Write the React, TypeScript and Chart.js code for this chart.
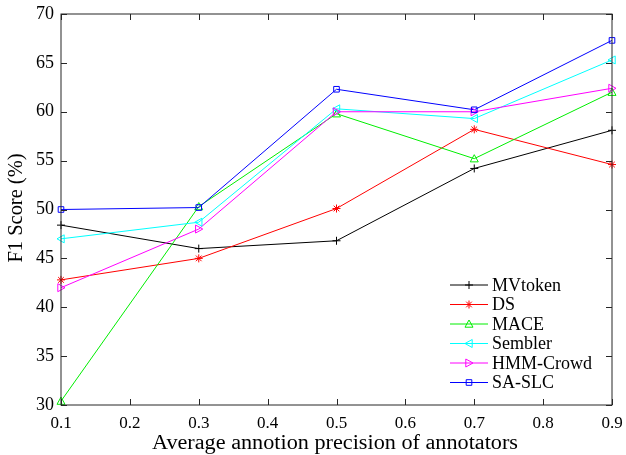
import React, { useEffect, useRef } from "react";
import { Chart, registerables } from "chart.js";

Chart.register(...registerables);

const xValues = [0.1, 0.3, 0.5, 0.7, 0.9];
const xTicks = [0.1, 0.2, 0.3, 0.4, 0.5, 0.6, 0.7, 0.8, 0.9];
const yTicks = [30, 35, 40, 45, 50, 55, 60, 65, 70];

const seriesNames = ["MVtoken", "DS", "MACE", "Sembler", "HMM-Crowd", "SA-SLC"];
const mvToken = [48.4, 46.0, 46.8, 54.2, 58.1];
const ds = [42.8, 45.0, 50.1, 58.2, 54.6];
const mace = [30.4, 50.3, 59.8, 55.2, 62.0];
const sembler = [47.0, 48.7, 60.3, 59.3, 65.3];
const hmmCrowd = [42.0, 48.0, 60.0, 60.0, 62.4];
const saSlc = [50.0, 50.2, 62.3, 60.2, 67.3];

const xTitle = "Average annotion precision of annotators";
const yTitle = "F1 Score (%)";

const seriesValues = [mvToken, ds, mace, sembler, hmmCrowd, saSlc];
const seriesColors = ["#000000", "#ff0000", "#00ee00", "#00ffff", "#ff00ff", "#0000ff"];
const seriesMarkers = ["cross", "star", "triangle", "triLeft", "triRight", "rect"];

const FONT = "'Liberation Serif', 'Times New Roman', serif";

function drawMarker(ctx: CanvasRenderingContext2D, kind: string, x: number, y: number, r: number) {
  ctx.beginPath();
  if (kind === "cross") {
    ctx.moveTo(x - r, y); ctx.lineTo(x + r, y);
    ctx.moveTo(x, y - r); ctx.lineTo(x, y + r);
  } else if (kind === "star") {
    for (let a = 0; a < 4; a++) {
      const ang = (a * Math.PI) / 4;
      ctx.moveTo(x - r * Math.cos(ang), y - r * Math.sin(ang));
      ctx.lineTo(x + r * Math.cos(ang), y + r * Math.sin(ang));
    }
  } else if (kind === "triangle") {
    ctx.moveTo(x, y - r); ctx.lineTo(x + r, y + r * 0.8); ctx.lineTo(x - r, y + r * 0.8); ctx.closePath();
  } else if (kind === "triLeft") {
    ctx.moveTo(x - r, y); ctx.lineTo(x + r * 0.8, y - r); ctx.lineTo(x + r * 0.8, y + r); ctx.closePath();
  } else if (kind === "triRight") {
    ctx.moveTo(x + r, y); ctx.lineTo(x - r * 0.8, y - r); ctx.lineTo(x - r * 0.8, y + r); ctx.closePath();
  } else if (kind === "rect") {
    ctx.rect(x - r * 0.7, y - r * 0.7, r * 1.4, r * 1.4);
  }
  ctx.stroke();
}

function drawStretchedText(ctx: CanvasRenderingContext2D, text: string, cx: number, cy: number, width: number, rot: number) {
  ctx.save();
  ctx.font = `20px ${FONT}`;
  ctx.textAlign = "center";
  ctx.textBaseline = "middle";
  ctx.fillStyle = "#000";
  const w = ctx.measureText(text).width;
  ctx.translate(cx, cy);
  ctx.rotate(rot);
  ctx.scale(width / w, 1);
  ctx.fillText(text, 0, 0);
  ctx.restore();
}

const framePlugin = {
  id: "frame",
  afterDraw(chart: any) {
    const ctx: CanvasRenderingContext2D = chart.ctx;
    const { left, right, top, bottom } = chart.chartArea;
    const xs = chart.scales.x;
    const ys = chart.scales.y;
    ctx.save();
    ctx.strokeStyle = "#262626";
    ctx.lineWidth = 1;
    ctx.strokeRect(left, top, right - left, bottom - top);
    const tl = 6;
    ctx.beginPath();
    for (const v of xTicks) {
      const px = Math.round(xs.getPixelForValue(v)) + 0.5;
      ctx.moveTo(px, bottom); ctx.lineTo(px, bottom - tl);
      ctx.moveTo(px, top); ctx.lineTo(px, top + tl);
    }
    for (const v of yTicks) {
      const py = Math.round(ys.getPixelForValue(v)) + 0.5;
      ctx.moveTo(left, py); ctx.lineTo(left + tl, py);
      ctx.moveTo(right, py); ctx.lineTo(right - tl, py);
    }
    ctx.stroke();

    // axis titles
    drawStretchedText(ctx, xTitle, 335, 444, 366, 0);
    drawStretchedText(ctx, yTitle, 17, 208, 109, -Math.PI / 2);

    // legend
    const lx = 450;
    const ly0 = 285;
    const dy = 19.5;
    ctx.font = `18px ${FONT}`;
    ctx.textBaseline = "middle";
    ctx.textAlign = "left";
    seriesNames.forEach((name, i) => {
      const y = ly0 + i * dy;
      ctx.strokeStyle = seriesColors[i];
      ctx.lineWidth = 1;
      ctx.beginPath();
      ctx.moveTo(lx, y); ctx.lineTo(lx + 38, y);
      ctx.stroke();
      drawMarker(ctx, seriesMarkers[i], lx + 19, y, 4);
      ctx.fillStyle = "#000";
      ctx.fillText(name, lx + 42, y + 1);
    });
    ctx.restore();
  },
};

const markerPlugin = {
  id: "markers",
  afterDatasetsDraw(chart: any) {
    const ctx: CanvasRenderingContext2D = chart.ctx;
    ctx.save();
    ctx.lineWidth = 1;
    chart.data.datasets.forEach((ds: any, i: number) => {
      const meta = chart.getDatasetMeta(i);
      ctx.strokeStyle = seriesColors[i];
      meta.data.forEach((pt: any) => drawMarker(ctx, seriesMarkers[i], pt.x, pt.y, 4));
    });
    ctx.restore();
  },
};

export default function App() {
  const ref = useRef<HTMLCanvasElement>(null);
  useEffect(() => {
    if (!ref.current) return;
    const chart = new Chart(ref.current, {
      type: "line",
      data: {
        datasets: seriesNames.map((name, i) => ({
          label: name,
          data: xValues.map((x, j) => ({ x, y: seriesValues[i][j] })),
          borderColor: seriesColors[i],
          borderWidth: 1,
          pointRadius: 0,
          fill: false,
          tension: 0,
          order: seriesNames.length - i,
        })),
      },
      options: {
        animation: false,
        responsive: false,
        devicePixelRatio: 1,
        layout: { padding: { top: 14, right: 14, left: 0, bottom: 0 } },
        plugins: { legend: { display: false }, tooltip: { enabled: false } },
        scales: {
          x: {
            type: "linear",
            min: 0.1,
            max: 0.9,
            afterBuildTicks: (s: any) => { s.ticks = xTicks.map((v) => ({ value: v })); },
            afterFit: (s: any) => { s.height = 50; s.paddingLeft = 0; s.paddingRight = 0; },
            grid: { display: false, drawTicks: false },
            border: { display: false },
            ticks: {
              color: "#000",
              padding: 8,
              maxRotation: 0,
              font: { family: FONT, size: 17 },
              callback: (v: any) => Number(v).toFixed(1),
            },
          },
          y: {
            min: 30,
            max: 70,
            afterBuildTicks: (s: any) => { s.ticks = yTicks.map((v) => ({ value: v })); },
            afterFit: (s: any) => { s.width = 61; s.paddingTop = 0; s.paddingBottom = 0; },
            grid: { display: false, drawTicks: false },
            border: { display: false },
            ticks: {
              color: "#000",
              padding: 7,
              font: { family: FONT, size: 18 },
            },
          },
        },
      },
      plugins: [markerPlugin, framePlugin],
    });
    return () => chart.destroy();
  }, []);
  return (
    <div style={{ position: "fixed", left: 0, top: 0, width: 626, height: 455, background: "#fff" }}>
      <canvas ref={ref} width={626} height={455} style={{ display: "block" }} />
    </div>
  );
}
